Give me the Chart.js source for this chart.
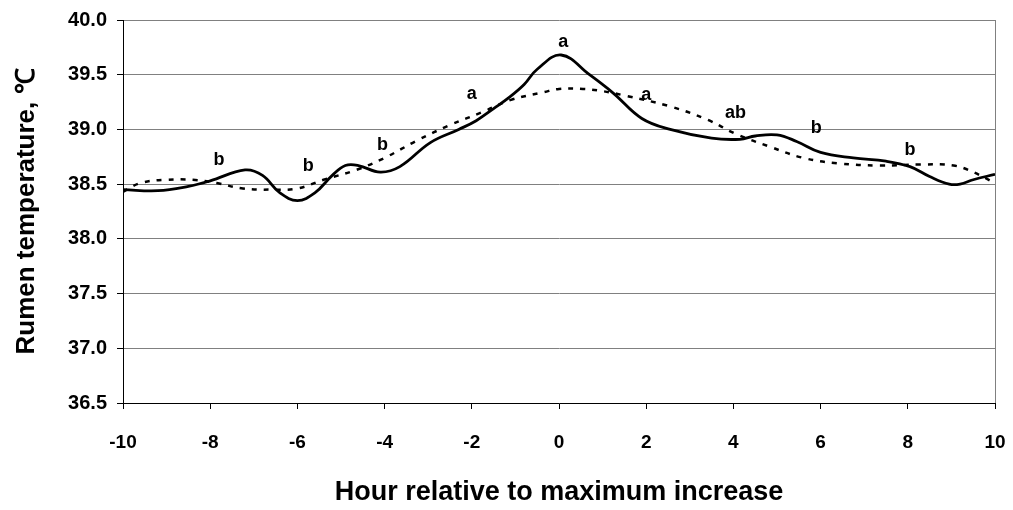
<!DOCTYPE html>
<html>
<head>
<meta charset="utf-8">
<script src="https://cdn.jsdelivr.net/npm/chart.js@4/dist/chart.umd.min.js"></script>
<style>
  html, body { margin: 0; padding: 0; background: #fff; }
  #wrap { width: 1013px; height: 510px; }
</style>
</head>
<body>
<div id="wrap"><canvas id="rumenChart" width="1013" height="510"></canvas></div>
<script>
// solid curve
var solidHours = [-10, -9.2, -8.5, -8.0, -7.2, -6.8, -6.4, -6.0, -5.6, -5.2, -4.9, -4.6, -4.1, -3.65,
  -2.95, -2.3, -1.9, -1.5, -1.15, -0.8, -0.5, 0.05, 0.7, 1.25, 1.9, 2.55, 3.5, 4.15, 4.5, 5.0, 5.45,
  6.0, 6.75, 7.5, 8.05, 8.5, 8.95, 9.2, 9.5, 10]
var solidTemps = [38.45, 38.44, 38.48, 38.53, 38.63, 38.58, 38.42, 38.35, 38.42, 38.58, 38.67, 38.67, 38.61, 38.66,
  38.88, 39.0, 39.08, 39.19, 39.29, 39.41, 39.55, 39.68, 39.5, 39.33, 39.1, 39.0, 38.92, 38.91, 38.94, 38.95, 38.89,
  38.79, 38.74, 38.71, 38.66, 38.57, 38.5, 38.5, 38.54, 38.59]

// dotted curve
var dashHours = [-10, -9.6, -9.0, -8.4, -7.85, -7.25, -6.6, -6.0, -5.4, -4.65, -4.0, -3.25, -2.5, -1.75,
  -1.1, -0.35, 0.0, 0.55, 1.0, 1.5, 2.55, 3.4, 4.05, 4.85, 5.6, 6.4, 7.35, 8.3, 9.05, 9.5, 10]
var dashTemps = [38.43, 38.51, 38.54, 38.54, 38.51, 38.46, 38.45, 38.46, 38.54, 38.63, 38.74, 38.9, 39.04, 39.16,
  39.27, 39.34, 39.37, 39.37, 39.35, 39.31, 39.21, 39.09, 38.96, 38.84, 38.74, 38.69, 38.67, 38.68, 38.67, 38.61, 38.51]

// significance letters
var letterText = ['b', 'b', 'b', 'a', 'a', 'a', 'ab', 'b', 'b']
var letterHours = [-7.8, -5.75, -4.05, -2.0, 0.1, 2.0, 4.05, 5.9, 8.05]
var letterTemps = [38.72, 38.67, 38.86, 39.32, 39.8, 39.31, 39.15, 39.01, 38.81]

function toPoints(xs, ys) {
  return xs.map(function(x, i) { return {x: x, y: ys[i]} })
}

var FONT = "'Liberation Sans', Arial, sans-serif"

var lettersPlugin = {
  id: 'letters',
  afterDatasetsDraw: function(chart) {
    var ctx = chart.ctx
    var xs = chart.scales.x, ys = chart.scales.y
    ctx.save()
    // right frame line
    ctx.strokeStyle = '#808080'
    ctx.lineWidth = 1
    ctx.beginPath()
    ctx.moveTo(chart.chartArea.right + 0.5, chart.chartArea.top)
    ctx.lineTo(chart.chartArea.right + 0.5, chart.chartArea.bottom)
    ctx.stroke()
    ctx.fillStyle = '#000'
    ctx.font = 'bold 18px ' + FONT
    ctx.textAlign = 'center'
    ctx.textBaseline = 'middle'
    letterText.forEach(function(t, i) {
      ctx.fillText(t, xs.getPixelForValue(letterHours[i]), ys.getPixelForValue(letterTemps[i]))
    })
    ctx.restore()
  }
}

var chartConfig = {
  type: 'line',
  data: {
    datasets: [
      {
        data: toPoints(solidHours, solidTemps),
        borderColor: '#000',
        borderWidth: 2.8,
        pointRadius: 0,
        tension: 0.4,
        fill: false
      },
      {
        data: toPoints(dashHours, dashTemps),
        borderColor: '#000',
        borderWidth: 2.5,
        borderDash: [5, 7],
        pointRadius: 0,
        tension: 0.4,
        fill: false
      }
    ]
  },
  options: {
    responsive: false,
    animation: false,
    layout: { padding: { top: 20, right: 18, left: 0, bottom: 0 } },
    plugins: { legend: { display: false }, tooltip: { enabled: false } },
    scales: {
      x: {
        type: 'linear',
        min: -10, max: 10,
        afterFit: function(s) { s.height = 107; s.paddingLeft = 0; s.paddingRight = 0 },
        ticks: { stepSize: 2, color: '#000', padding: 22, font: { family: FONT, size: 19, weight: 'bold' } },
        grid: { drawOnChartArea: false, drawTicks: true, tickLength: 6, color: '#000' },
        border: { color: '#000', width: 1 },
        title: {
          display: true, text: 'Hour relative to maximum increase', color: '#000',
          font: { family: FONT, size: 27, weight: 'bold' }, padding: { top: 0, bottom: 1 }
        }
      },
      y: {
        min: 36.5, max: 40,
        afterFit: function(s) { s.width = 123; s.paddingTop = 0; s.paddingBottom = 0 },
        ticks: {
          stepSize: 0.5, color: '#000', padding: 10,
          font: { family: FONT, size: 20, weight: 'bold' },
          callback: function(v) { return v.toFixed(1) }
        },
        grid: { color: '#808080', lineWidth: 1, tickLength: 6, tickColor: '#000' },
        border: { color: '#000', width: 1 },
        title: {
          display: true, text: 'Rumen temperature, ℃', color: '#000',
          font: { family: FONT, size: 26, weight: 'bold' }, padding: { top: 11, bottom: 0 }
        }
      }
    }
  },
  plugins: [lettersPlugin]
}

var rumenChart = new Chart(document.getElementById('rumenChart'), chartConfig)
</script>
</body>
</html>
